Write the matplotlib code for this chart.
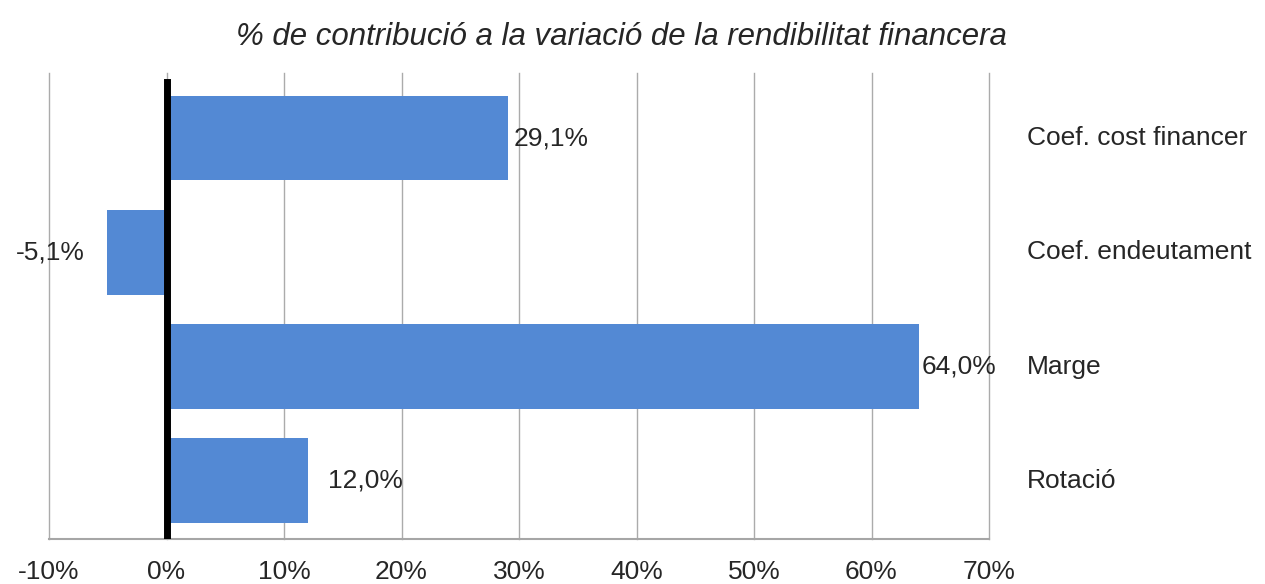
import matplotlib
matplotlib.use("Agg")
import matplotlib.pyplot as plt
import matplotlib.transforms as mtransforms

categories = ["Coef. cost financer", "Coef. endeutament", "Marge", "Rotació"]
values = [29.1, -5.1, 64.0, 12.0]
value_labels = ["29,1%", "-5,1%", "64,0%", "12,0%"]
xticks = [-10, 0, 10, 20, 30, 40, 50, 60, 70]
xtick_labels = ["-10%", "0%", "10%", "20%", "30%", "40%", "50%", "60%", "70%"]
title = "% de contribució a la variació de la rendibilitat financera"

plt.rcParams['font.family'] = ['Liberation Sans', 'DejaVu Sans']
txt_color = '#262626'

fig = plt.figure(figsize=(12.65, 5.84), dpi=100)
ax = fig.add_axes([49/1265, 1-539/584, (989-49)/1265, (539-73)/584])

ypos = list(range(len(categories)))
ax.barh(ypos, values, height=0.74, color='#5389d4', zorder=2)

ax.set_xlim(-10, 70)
ax.set_ylim(3.51, -0.57)
ax.set_xticks(xticks)
ax.set_xticklabels(xtick_labels, fontsize=19, color=txt_color)
ax.set_yticks([])
ax.tick_params(axis='x', length=0, pad=15)
ax.grid(axis='x', color='#ababab', linewidth=1.0, zorder=0)
for gl in ax.get_xgridlines():
    gl.set_clip_on(False)
for s in ['top', 'right', 'left']:
    ax.spines[s].set_visible(False)
ax.spines['bottom'].set_color('#a6a6a6')
ax.spines['bottom'].set_linewidth(1.5)

ax.axvline(0, ymin=0, ymax=(539-82)/466, color='black', linewidth=5, zorder=3)

offsets = [4, -16, 2, 15]
for y, v, lab, off in zip(ypos, values, value_labels, offsets):
    ha = 'left' if off > 0 else 'right'
    ax.annotate(lab, (v, y), xytext=(off, 0), textcoords='offset points',
                ha=ha, va='center', fontsize=19, color=txt_color)

trans = mtransforms.blended_transform_factory(ax.transAxes, ax.transData)
for y, c in zip(ypos, categories):
    ax.text((1027-49)/940, y, c, transform=trans, ha='left', va='center',
            fontsize=19, color=txt_color)

fig.text(621/1265, 1-37/584, title, ha='center', va='center', fontsize=22.5,
         style='italic', color=txt_color)

fig.savefig('out.png', dpi=100)
